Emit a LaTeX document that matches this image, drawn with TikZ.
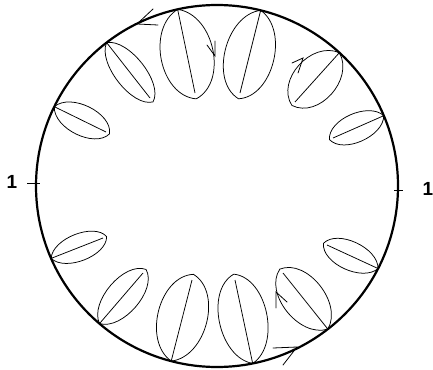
\documentclass[tikz,border=0pt]{standalone}
\usepackage{fontspec}
\setmainfont{Liberation Sans}
\usetikzlibrary{calc}
\tikzset{
  ring/.style={line width=2.2pt, black},
  leafline/.style={line width=0.75pt, black, line join=round},
  vtip/.style={line width=0.8pt, black, line cap=round, line join=miter},
  lab/.style={font=\bfseries\fontsize{19}{19}\selectfont, inner sep=0pt}
}
\newcommand{\Rad}{181pt}
\newcommand{\leafat}[4]{%
  \coordinate (#1a) at ($(O)!\Rad!(#2)$);
  \coordinate (#1t) at (#3);
  \draw[leafline] (#1a)
     .. controls ($(#1a)!0.15!(#1t)!#4pt!90:(#1t)$) and ($(#1a)!0.95!(#1t)!#4pt!90:(#1t)$) .. ($(#1a)!1.07!(#1t)$)
     .. controls ($(#1a)!0.95!(#1t)!#4pt!-90:(#1t)$) and ($(#1a)!0.15!(#1t)!#4pt!-90:(#1t)$) .. (#1a);
  \draw[leafline] (#1a) -- (#1t);
}
\begin{document}
\begin{tikzpicture}[x=1pt,y=-1pt]
\useasboundingbox (0,0) rectangle (433,369);
\coordinate (O) at (217,186);
% leaves
\leafat{L0}{55,107}{106,132}{20}
\leafat{L1}{110,47}{150,98}{20}
\leafat{L2}{178,11}{195,93}{35}
\leafat{L3}{260,13}{240,93}{33}
\leafat{L4}{340,52}{295,102}{29}
\leafat{L5}{383,116}{333,138}{19}
\leafat{L6}{52,258}{103,238}{18}
\leafat{L7}{100,323}{143,273}{22}
\leafat{L8}{172,358}{192,280}{33}
\leafat{L9}{252,360}{235,280}{32}
\leafat{L10}{327,328}{283,273}{28}
\leafat{L11}{377,268}{327,245}{19}
% ring
\draw[ring] (O) circle[radius=\Rad];
% ticks and labels
\coordinate (tl1) at (27,183); \coordinate (tl2) at (40,183);
\draw[line width=0.8pt] (tl1) -- (tl2);
\coordinate (tr1) at (394,190); \coordinate (tr2) at (403,190);
\draw[line width=0.8pt] (tr1) -- (tr2);
\node[lab] (one1) at (12,182) {1};
\node[lab] (one2) at (428,189) {1};
% arrows on ring
\coordinate (a1t) at (137,24); \coordinate (a1b) at (153,9); \coordinate (a1c) at (158,25);
\draw[vtip] (a1b) -- (a1t) -- (a1c);
\coordinate (a2t) at (297,347); \coordinate (a2b) at (273,348); \coordinate (a2c) at (283,365);
\draw[vtip] (a2b) -- (a2t) -- (a2c);
% arrows on leaves
\coordinate (a3t) at (215,56); \coordinate (a3b) at (215,41); \coordinate (a3c) at (207,45);
\draw[vtip] (a3b) -- (a3t) -- (a3c);
\coordinate (a4t) at (303,58); \coordinate (a4b) at (298,73); \coordinate (a4c) at (292,63);
\draw[vtip] (a4b) -- (a4t) -- (a4c);
\coordinate (a5t) at (276,292); \coordinate (a5b) at (276,308); \coordinate (a5c) at (287,302);
\draw[vtip] (a5b) -- (a5t) -- (a5c);
\end{tikzpicture}
\end{document}
